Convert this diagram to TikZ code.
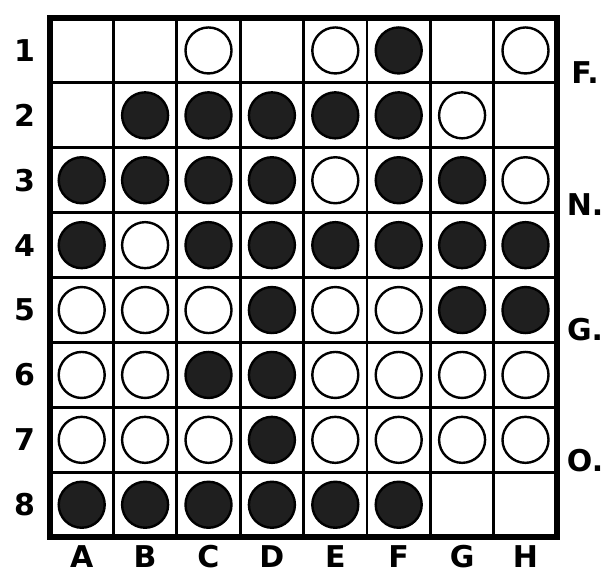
\documentclass[tikz,border=0pt]{standalone}
\usepackage{fontspec}
\setsansfont{DejaVu Sans}
\usepackage{tikz}
\usetikzlibrary{positioning}

\begin{document}
\begin{tikzpicture}[x=1pt, y=-1pt,
    gridline/.style={line width=2.8pt, black},
    frame/.style={line width=5.5pt, black},
    stone/.style={circle, line width=2.4pt, draw=black, minimum size=46pt, inner sep=0pt},
    blackstone/.style={stone, fill=black!88},
    whitestone/.style={stone, fill=white},
    lbl/.style={font=\sffamily\bfseries\fontsize{30}{32}\selectfont, inner sep=0pt}]
\useasboundingbox (0,0) rectangle (610,575);
\begin{scope}[shift={(50,18)}, x=63.4pt, y=-64.9pt]
  % board
  \foreach \k in {1,...,7} {
    \draw[gridline] (\k,0) -- (\k,8);
    \draw[gridline] (0,\k) -- (8,\k);
  }
  \draw[frame] (0,0) rectangle (8,8);
  % black stones (column/row)
  \foreach \c/\r in {6/1,
      2/2, 3/2, 4/2, 5/2, 6/2,
      1/3, 2/3, 3/3, 4/3, 6/3, 7/3,
      1/4, 3/4, 4/4, 5/4, 6/4, 7/4, 8/4,
      4/5, 7/5, 8/5,
      3/6, 4/6,
      4/7,
      1/8, 2/8, 3/8, 4/8, 5/8, 6/8}
    \node[blackstone] (b\c-\r) at (\c-0.5,\r-0.5) {};
  % white stones
  \foreach \c/\r in {3/1, 5/1, 8/1,
      7/2,
      5/3, 8/3,
      2/4,
      1/5, 2/5, 3/5, 5/5, 6/5,
      1/6, 2/6, 5/6, 6/6, 7/6, 8/6,
      1/7, 2/7, 3/7, 5/7, 6/7, 7/7, 8/7}
    \node[whitestone] (w\c-\r) at (\c-0.5,\r-0.5) {};
  % coordinates
  \foreach \l [count=\i] in {A,B,C,D,E,F,G,H}
    \node[lbl] (col\l) at (\i-0.5,8.3) {\l};
  \foreach \i in {1,...,8}
    \node[lbl] (row\i) at (-0.4,\i-0.5) {\i};
  % side letters
  \node[lbl] (sideF) at (8.44,0.84) {F.};
  \node[lbl] (sideN) at (8.44,2.88) {N.};
  \node[lbl] (sideG) at (8.44,4.80) {G.};
  \node[lbl] (sideO) at (8.44,6.82) {O.};
\end{scope}
\end{tikzpicture}
\end{document}
